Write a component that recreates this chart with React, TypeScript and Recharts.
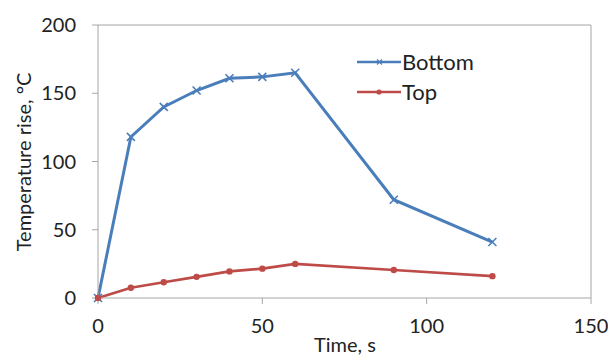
import React from "react";
import {
  LineChart,
  Line,
  XAxis,
  YAxis,
  ReferenceLine,
} from "recharts";

const timeS = [0, 10, 20, 30, 40, 50, 60, 90, 120];
const bottomRise = [0, 118, 140, 152, 161, 162, 165, 72, 41];
const topRise = [0, 7.5, 11.5, 15.5, 19.5, 21.5, 25, 20.5, 16];
const xTicks = [0, 50, 100, 150];
const yTicks = [0, 50, 100, 150, 200];

const data = timeS.map((t, i) => ({ t, bottom: bottomRise[i], top: topRise[i] }));

const FONT = "Lato, 'Open Sans', sans-serif";
const BLUE = "#4A7EBB";
const RED = "#BE4B48";
const AXIS = "#A6A6A6";

const legendItems = [
  { name: "Bottom", color: BLUE, cross: true },
  { name: "Top", color: RED, cross: false },
];

const CrossDot = (props: any) => {
  const { cx, cy } = props;
  if (cx == null || cy == null) return null;
  const s = 4;
  return (
    <g stroke={BLUE} strokeWidth={1.6}>
      <line x1={cx - s} y1={cy - s} x2={cx + s} y2={cy + s} />
      <line x1={cx - s} y1={cy + s} x2={cx + s} y2={cy - s} />
    </g>
  );
};

const RoundDot = (props: any) => {
  const { cx, cy } = props;
  if (cx == null || cy == null) return null;
  return <circle cx={cx} cy={cy} r={3.2} fill={RED} stroke="none" />;
};

function ChartLegend() {
  return (
    <div
      style={{
        position: "absolute",
        left: 357,
        top: 47,
        fontFamily: FONT,
        fontSize: 22,
        color: "#222",
        lineHeight: "30px",
      }}
    >
      {legendItems.map((e) => (
        <div key={e.name} style={{ display: "flex", alignItems: "center" }}>
          <svg width={44} height={12} style={{ marginRight: 1 }}>
            <line x1={0} y1={6} x2={44} y2={6} stroke={e.color} strokeWidth={2.6} />
            {e.cross ? (
              <g stroke={e.color} strokeWidth={1.2}>
                <line x1={20} y1={3.5} x2={25} y2={8.5} />
                <line x1={20} y1={8.5} x2={25} y2={3.5} />
              </g>
            ) : (
              <circle cx={22} cy={6} r={2.6} fill={e.color} />
            )}
          </svg>
          <span>{e.name}</span>
        </div>
      ))}
    </div>
  );
}

export default function App() {
  return (
    <div style={{ position: "absolute", left: 0, top: 0, width: 608, height: 356, background: "#fff" }}>
      <LineChart
        width={608}
        height={356}
        data={data}
        margin={{ top: 25, right: 17, bottom: 28, left: 0 }}
      >
        <XAxis
          type="number"
          dataKey="t"
          domain={[0, 150]}
          ticks={xTicks}
          interval={0}
          stroke={AXIS}
          tickSize={6}
          tick={{ fill: "#222", fontSize: 20, fontFamily: FONT }}
          tickMargin={15}
          label={{
            value: "Time, s",
            content: () => (
              <text x={345} y={352} textAnchor="middle" fill="#222" fontSize={20} fontFamily={FONT}>
                Time, s
              </text>
            ),
          }}
        />
        <YAxis
          type="number"
          domain={[0, 200]}
          ticks={yTicks}
          interval={0}
          width={98}
          stroke={AXIS}
          tickSize={6}
          tick={{ fill: "#222", fontSize: 20, fontFamily: FONT }}
          tickMargin={16}
          label={{
            value: "Temperature rise, °C",
            content: () => (
              <text
                x={31}
                y={162}
                textAnchor="middle"
                fill="#222"
                fontSize={20}
                fontFamily={FONT}
                transform="rotate(-90 31 162)"
              >
                Temperature rise, °C
              </text>
            ),
          }}
        />
        <ReferenceLine y={200} stroke={AXIS} strokeWidth={1} />
        <ReferenceLine x={150} stroke={AXIS} strokeWidth={1} />
        <Line
          dataKey="bottom"
          name="Bottom"
          stroke={BLUE}
          strokeWidth={3}
          dot={<CrossDot />}
          activeDot={false}
          isAnimationActive={false}
        />
        <Line
          dataKey="top"
          name="Top"
          stroke={RED}
          strokeWidth={2.6}
          dot={<RoundDot />}
          activeDot={false}
          isAnimationActive={false}
        />
      </LineChart>
      <ChartLegend />
    </div>
  );
}
